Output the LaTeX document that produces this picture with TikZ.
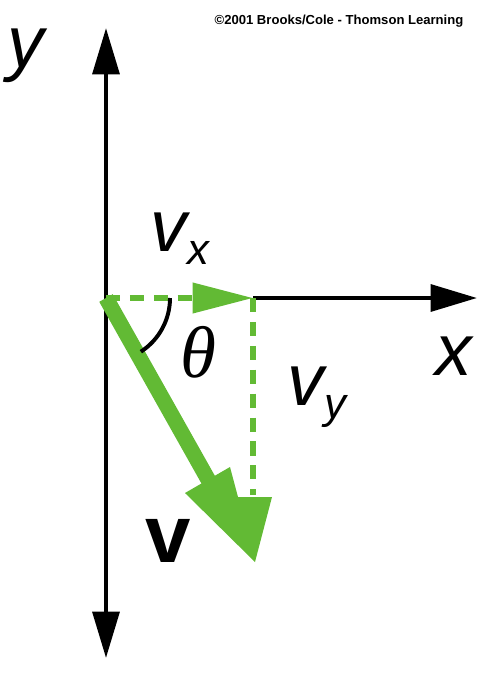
\documentclass[tikz,border=0pt]{standalone}
\usepackage{fontspec}
\setmainfont{Liberation Sans}
\newfontfamily\greekfont{Liberation Serif}
\usetikzlibrary{arrows.meta}

\definecolor{vgreen}{RGB}{98,186,52}

\tikzset{
	axis/.style={line width=3pt, -{Triangle[length=33pt,width=19pt]}},
	comp/.style={vgreen, line width=4pt, dash pattern=on 10pt off 7pt},
	vec/.style={vgreen, line width=11pt},
	lbl/.style={inner sep=0pt, font=\fontsize{52}{52}\selectfont\itshape},
}

\begin{document}
\begin{tikzpicture}[x=0.025cm, y=-0.025cm]
	\useasboundingbox (0,0) rectangle (478,673);
	
	% Origin and end points
	\coordinate (O) at (106,298);
	\coordinate (ytop) at (106,28);
	\coordinate (ybot) at (106,658);
	\coordinate (xtip) at (477,298);
	\coordinate (vxtip) at (253,298);
	\coordinate (vybot) at (253,495);
	\coordinate (vend) at (214,490);
	\coordinate (vtip) at (255,562);
	
	% Axes
	\draw[axis] (O) -- (ytop);
	\draw[axis] (O) -- (ybot);
	\draw[axis] (vxtip) -- (xtip);
	
	% Components
	\draw[comp, -{Triangle[length=43pt,width=21pt]}] (O) -- (vxtip);
	\draw[comp] (vxtip) -- (vybot);
	
	% Velocity vector
	\draw[vec] (O) -- (vend);
	\fill[vgreen] (185,493) -- (230,467) -- (238,497) -- (272,497) -- (vtip) -- cycle;
	
	% Angle
	\draw[line width=2.8pt] (O) ++(0:1.6cm) arc[start angle=0, end angle=-57, radius=1.6cm];
	
	% Labels
	\node[lbl] (ylbl) at (26,56) {y};
	\node[lbl] (xlbl) at (454,356) {x};
	\node[lbl] (vxlbl) at (180,239) {v\raisebox{-9pt}{\fontsize{31}{31}\selectfont x}};
	\node[lbl] (vylbl) at (317,397) {v\raisebox{-9pt}{\fontsize{31}{31}\selectfont y}};
	\node[lbl] (thlbl) at (198,352) {\greekfont θ};
	\node[inner sep=0pt, font=\fontsize{58}{58}\selectfont\bfseries] (vlbl) at (168,541) {v};
	\node[inner sep=0pt, font=\fontsize{9.3}{9.3}\selectfont\bfseries] (copy) at (339,21) {©2001 Brooks/Cole - Thomson Learning};
\end{tikzpicture}
\end{document}
